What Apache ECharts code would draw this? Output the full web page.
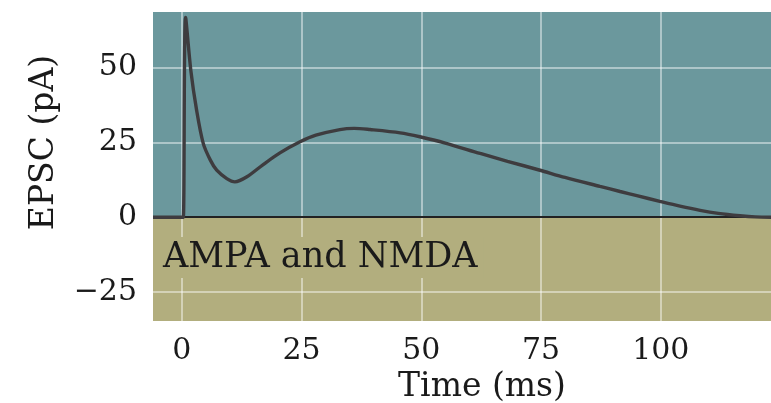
<!DOCTYPE html>
<html>
<head>
<meta charset="utf-8">
<script src="https://cdn.jsdelivr.net/npm/echarts@6/dist/echarts.min.js"></script>
<style>
  html, body { margin: 0; padding: 0; background: #fff; }
  #chart { width: 771px; height: 403px; }
</style>
</head>
<body>
<div id="chart"></div>
<script>
// time (ms) and current (pA)
const timeMs = [-6, 0, 0.33, 0.8, 1.9, 3.1, 4.5, 6, 7.3, 9.4, 11.1, 13.6, 17, 20.5, 24.7, 28, 33, 36, 39.3, 45.6, 49.7, 55, 62.3, 68, 74.8, 80, 87.3, 91.5, 95, 99.8, 104, 108.2, 112, 116.5, 119.7, 123];
const epsc = [0, 0, 0, 66.8, 49, 35.8, 24.6, 19, 15.7, 12.9, 11.8, 13.5, 17.6, 21.5, 25.2, 27.4, 29.3, 29.7, 29.3, 28.2, 26.9, 24.8, 21.3, 18.7, 15.7, 13.3, 10.3, 8.6, 7.2, 5.3, 3.7, 2.3, 1.3, 0.5, 0.1, 0];

const xTicks = [0, 25, 50, 75, 100];
const yTicks = [-25, 0, 25, 50];
const X_MIN = -6, X_MAX = 123;
const Y_MIN = -34.7, Y_MAX = 68.6;

const FONT = "'DejaVu Serif', 'Liberation Serif', serif";
const TEAL = "#6b989d";
const TAN = "#b2ae7e";
const INK = "#1a1a1a";

const chart = echarts.init(document.getElementById("chart"), null, { renderer: "canvas" });

const gridLines = xTicks.map((v) => ({ xAxis: v }))
  .concat(yTicks.filter((v) => v !== 0).map((v) => ({ yAxis: v })));

const option = {
  animation: false,
  grid: {
    left: 153, right: 0, top: 12, bottom: 82,
    outerBoundsMode: "none",
    containLabel: false,
    show: true, backgroundColor: TAN, borderWidth: 0
  },
  xAxis: {
    type: "value",
    min: X_MIN, max: X_MAX,
    name: "Time (ms)",
    nameLocation: "middle",
    nameGap: 46,
    nameTextStyle: { fontFamily: FONT, fontSize: 33, color: INK, padding: [0, 0, 0, 40] },
    axisLine: { show: false },
    axisTick: { show: false },
    splitLine: { show: false },
    axisLabel: {
      customValues: xTicks,
      fontFamily: FONT, fontSize: 30, color: INK, margin: 15
    }
  },
  yAxis: {
    type: "value",
    min: Y_MIN, max: Y_MAX,
    name: "EPSC (pA)",
    nameLocation: "middle",
    nameGap: 92,
    nameRotate: 90,
    nameTextStyle: { fontFamily: FONT, fontSize: 33, color: INK, padding: [0, 0, 0, 48] },
    axisLine: { show: false },
    axisTick: { show: false },
    splitLine: { show: false },
    axisLabel: {
      customValues: yTicks,
      fontFamily: FONT, fontSize: 30, color: INK, margin: 16,
      formatter: (v) => String(v).replace("-", "\u2212")
    }
  },
  graphic: [{
    type: "text",
    left: 157, top: 237, z: 100,
    style: {
      text: "AMPA and NMDA",
      font: "35px " + FONT,
      fill: INK,
      backgroundColor: TAN,
      padding: [3, 6, 3, 6]
    }
  }],
  series: [{
    type: "line",
    z: 5,
    data: timeMs.map((t, i) => [t, epsc[i]]),
    showSymbol: false,
    smooth: 0.3,
    lineStyle: { color: "#3e3c3f", width: 3.4 },
    markArea: {
      silent: true,
      z: 1,
      itemStyle: { color: TEAL },
      data: [[{ yAxis: 0 }, { yAxis: Y_MAX }]]
    },
    markLine: {
      silent: true,
      z: 3,
      symbol: "none",
      label: { show: false },
      lineStyle: { color: "rgba(255,255,255,0.6)", width: 1.5, type: "solid" },
      data: gridLines.concat([{ yAxis: 0, lineStyle: { color: "#222", width: 2, type: "solid" } }])
    }
  }]
};

chart.setOption(option);
</script>
</body>
</html>
